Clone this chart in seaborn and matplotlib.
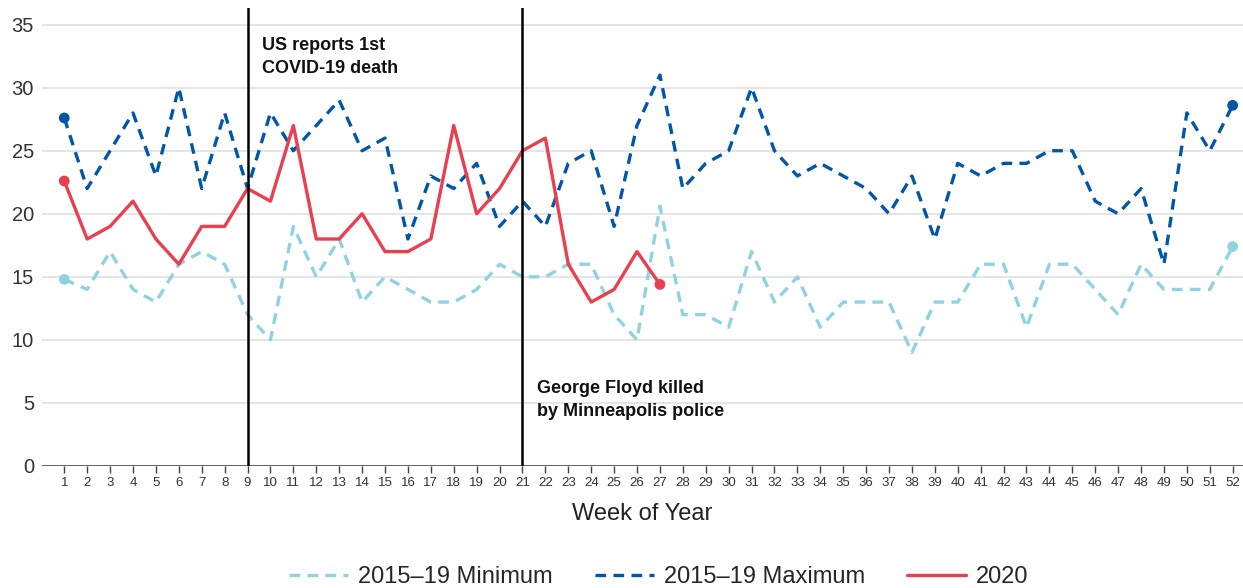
import numpy as np
import pandas as pd
import seaborn as sns
import matplotlib.pyplot as plt

# ------------------------------------------------------------------
# Data
# ------------------------------------------------------------------
weeks = list(range(1, 53))

min_2015_19 = [14.8, 14, 17, 14, 13, 16, 17, 16, 12, 10,
               19, 15, 18, 13, 15, 14, 13, 13, 14, 16,
               15, 15, 16, 16, 12, 10, 20.6, 12, 12, 11,
               17, 13, 15, 11, 13, 13, 13, 9, 13, 13,
               16, 16, 11, 16, 16, 14, 12, 16, 14, 14,
               14, 17.4]

max_2015_19 = [27.6, 22, 25, 28, 23, 30, 22, 28, 22, 28,
               25, 27, 29, 25, 26, 18, 23, 22, 24, 19,
               21, 19, 24, 25, 19, 27, 31, 22, 24, 25,
               30, 25, 23, 24, 23, 22, 20, 23, 18, 24,
               23, 24, 24, 25, 25, 21, 20, 22, 16, 28,
               25, 28.6]

weeks_2020 = list(range(1, 28))
y2020 = [22.6, 18, 19, 21, 18, 16, 19, 19, 22, 21,
         27, 18, 18, 20, 17, 17, 18, 27, 20, 22,
         25, 26, 16, 13, 14, 17, 14.4]

events = [9, 21]
event_labels = ["US reports 1st\nCOVID-19 death",
                "George Floyd killed\nby Minneapolis police"]
event_label_y = [34.0, 6.8]

series_names = ["2015\u201319 Minimum", "2015\u201319 Maximum", "2020"]
colors = {"2015\u201319 Minimum": "#8fd3e2",
          "2015\u201319 Maximum": "#0057a8",
          "2020": "#ea3f4e"}

df = pd.concat([
    pd.DataFrame({"week": weeks, "value": min_2015_19, "series": series_names[0]}),
    pd.DataFrame({"week": weeks, "value": max_2015_19, "series": series_names[1]}),
    pd.DataFrame({"week": weeks_2020, "value": y2020, "series": series_names[2]}),
])

# ------------------------------------------------------------------
# Plot
# ------------------------------------------------------------------
sns.set_style("white")
plt.rcParams["font.family"] = ["Liberation Sans", "DejaVu Sans"]

fig = plt.figure(figsize=(12.43, 5.88), dpi=100)
ax = fig.add_axes([0.034, 0.2075, 0.966, 0.7785])

for yv in range(5, 40, 5):
    ax.axhline(yv, color="#e0e0e0", lw=1.2, zorder=0)

dash = (3.2, 2.2)
for name in series_names:
    sub = df[df["series"] == name]
    sns.lineplot(data=sub, x="week", y="value", ax=ax, color=colors[name],
                 lw=2.4, label=name, zorder=3 if name == "2020" else 2,
                 dashes=False)
    line = ax.get_lines()[-1]
    if name != "2020":
        line.set_dashes(dash)
    ends = sub.iloc[[0, -1]]
    ax.scatter(ends["week"], ends["value"], s=60, color=colors[name],
               zorder=4, edgecolor="none")

for wk, txt, ty in zip(events, event_labels, event_label_y):
    ax.axvline(wk, color="black", lw=1.8, zorder=5)
    ax.text(wk + 0.62, ty, txt, fontsize=13, fontweight="bold",
            va="top", ha="left", linespacing=1.45, color="#111111")

ax.axhline(0, color="#444444", lw=1.2, zorder=1)

ax.set_xlim(0.04, 52.45)
ax.set_ylim(0, 36.3)
ax.set_yticks(range(0, 40, 5))
ax.set_xticks(weeks)
ax.tick_params(axis="y", length=0, labelsize=14.5, labelcolor="#333333", pad=6)
ax.tick_params(axis="x", length=5, width=1, color="#444444", direction="out",
               labelsize=9.5, labelcolor="#333333", pad=3, bottom=True)
for side in ["top", "right", "left", "bottom"]:
    ax.spines[side].set_visible(False)

ax.set_xlabel("Week of Year", fontsize=17, color="#222222", labelpad=10)
ax.set_ylabel("")

handles, labels = ax.get_legend_handles_labels()
ax.get_legend().remove()
fig.legend(handles, labels, loc="center", bbox_to_anchor=(0.53, 0.018), ncol=3,
           frameon=False, fontsize=17, handlelength=2.5, handletextpad=0.4,
           columnspacing=1.8)

fig.savefig("out.png", dpi=100)
